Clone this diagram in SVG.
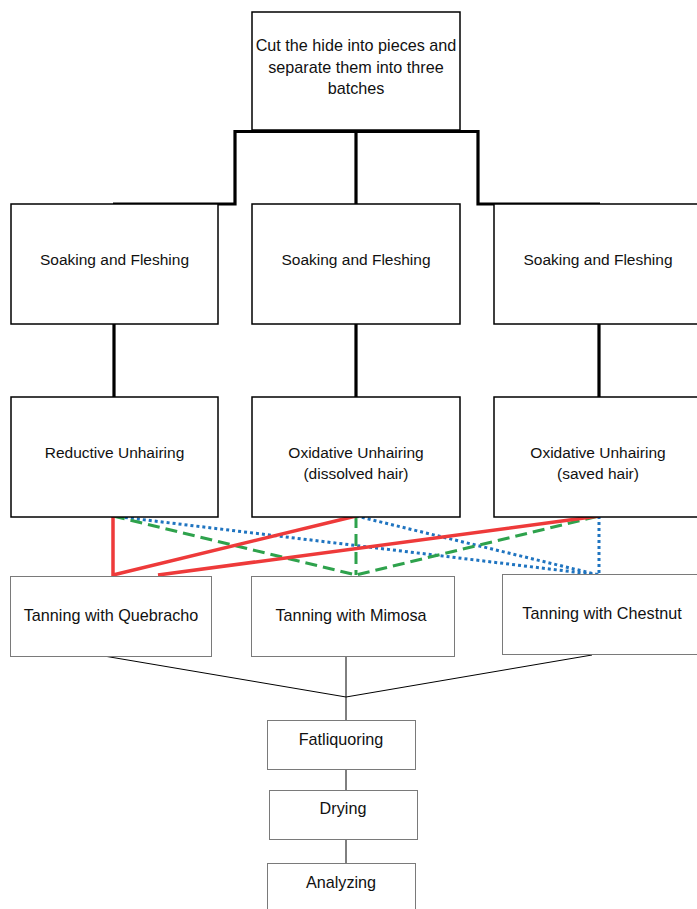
<svg xmlns="http://www.w3.org/2000/svg" width="697" height="909" viewBox="0 0 697 909">
<style>
text{font-family:"Liberation Sans",Arial,sans-serif;font-size:15.5px;fill:#111;text-anchor:middle}
.big{font-size:16.2px}
.bx{fill:#fff;stroke:#000;stroke-width:1.5}
.gx{fill:#fff;stroke:#7a7a7a;stroke-width:1}
.thick{fill:none;stroke:#000;stroke-width:3.2}
.thin{fill:none;stroke:#000;stroke-width:1}
.red{fill:none;stroke:#ee3a3a;stroke-width:3.5}
.green{fill:none;stroke:#2ea24c;stroke-width:3;stroke-dasharray:12 6}
.blue{fill:none;stroke:#1f74c0;stroke-width:3;stroke-dasharray:3 3}
</style>
<rect width="697" height="909" fill="#fff"/>
<g id="connectors">
<path class="thick" d="M113,204 H235 V131.5 H478 V204 H600"/>
<path class="thick" d="M356,131.5 V204" stroke-width="2.6"/>
<path class="thick" d="M114,324 V397 M356,324 V397 M599,324 V397"/>
<path class="blue" d="M113,516 L599,575 M356,516 L599,575 M599,516 V575"/>
<path class="green" d="M113,516 L356,575 L599,516 M356,516 V575"/>
<path class="red" d="M113,516 V575 L356,516 M158,575 L599,516"/>
<path class="thin" d="M104,656 L346,697 L592,655 M346,656 V720 M346,769 V790 M346,839 V863"/>
</g>
<g id="n-cut"><rect class="bx" x="252" y="12" width="208" height="118"/><text class="big" x="356" y="51">Cut the hide into pieces and</text><text class="big" x="356" y="73">separate them into three</text><text class="big" x="356" y="94">batches</text></g>
<g id="n-soak1"><rect class="bx" x="11" y="204" width="207" height="120"/><text x="114.5" y="265">Soaking and Fleshing</text></g>
<g id="n-soak2"><rect class="bx" x="252" y="204" width="208" height="120"/><text x="356" y="265">Soaking and Fleshing</text></g>
<g id="n-soak3"><rect class="bx" x="494" y="204" width="208" height="120"/><text x="598" y="265">Soaking and Fleshing</text></g>
<g id="n-unhair1"><rect class="bx" x="11" y="397" width="207" height="120"/><text x="114.5" y="458">Reductive Unhairing</text></g>
<g id="n-unhair2"><rect class="bx" x="252" y="397" width="208" height="120"/><text x="356" y="458">Oxidative Unhairing</text><text x="356" y="479">(dissolved hair)</text></g>
<g id="n-unhair3"><rect class="bx" x="494" y="397" width="208" height="120"/><text x="598" y="458">Oxidative Unhairing</text><text x="598" y="479">(saved hair)</text></g>
<g id="n-tan1"><rect class="gx" x="10.5" y="576.5" width="201" height="80"/><text class="big" x="111" y="621">Tanning with Quebracho</text></g>
<g id="n-tan2"><rect class="gx" x="251.5" y="576.5" width="203" height="80"/><text class="big" x="351" y="621">Tanning with Mimosa</text></g>
<g id="n-tan3"><rect class="gx" x="502.5" y="574.5" width="200" height="80"/><text class="big" x="602" y="619">Tanning with Chestnut</text></g>
<g id="n-fat"><rect class="gx" x="267.5" y="720.5" width="148" height="49"/><text class="big" x="341" y="745">Fatliquoring</text></g>
<g id="n-dry"><rect class="gx" x="269.5" y="790.5" width="148" height="49"/><text class="big" x="343" y="814">Drying</text></g>
<g id="n-ana"><rect class="gx" x="267.5" y="863.5" width="148" height="50"/><text class="big" x="341" y="888">Analyzing</text></g>
</svg>
